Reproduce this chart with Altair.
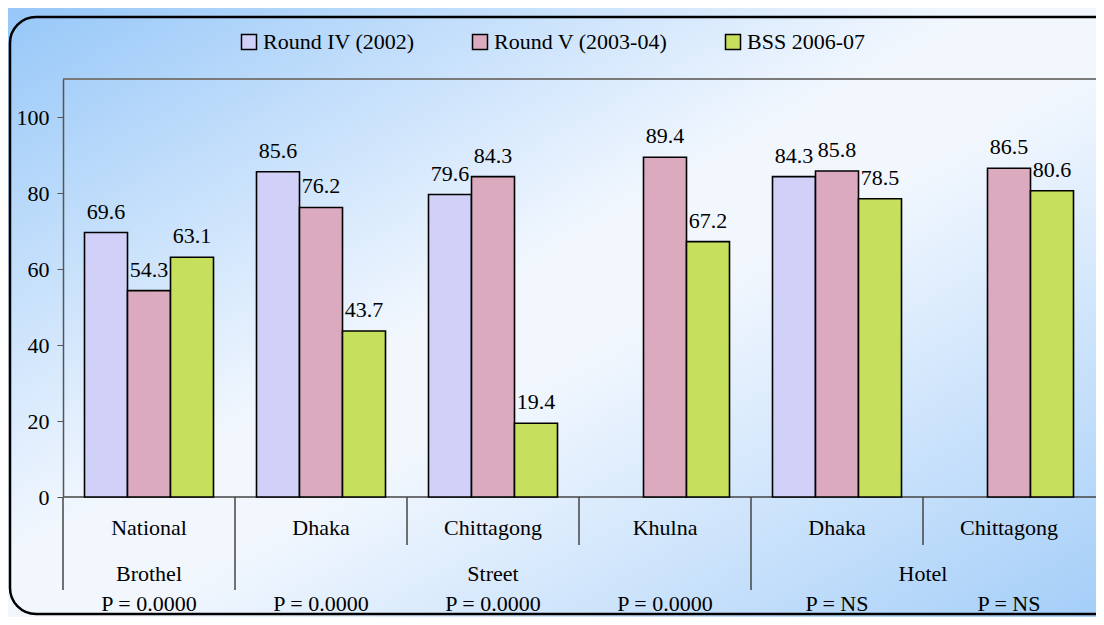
import altair as alt
import pandas as pd

# ---------------- data ----------------
categories = ["National", "Dhaka", "Chittagong", "Khulna", "Dhaka", "Chittagong"]
sections = ["Brothel", "Street", "Street", "Street", "Hotel", "Hotel"]
p_values = ["P = 0.0000", "P = 0.0000", "P = 0.0000", "P = 0.0000", "P = NS", "P = NS"]
series = ["Round IV (2002)", "Round V (2003-04)", "BSS 2006-07"]
round_iv = [69.6, 85.6, 79.6, None, 84.3, None]
round_v = [54.3, 76.2, 84.3, 89.4, 85.8, 86.5]
bss = [63.1, 43.7, 19.4, 67.2, 78.5, 80.6]
y_ticks = [0, 20, 40, 60, 80, 100]
colors = ["#d0d0f8", "#dcaabf", "#c6df5c"]

W, H = 1032, 418
FONT = "Liberation Serif, Times New Roman, DejaVu Serif, serif"
FS = 22

keys = [f"g{i}" for i in range(len(categories))]

rows = []
for i, cat in enumerate(categories):
    for s, vals in zip(series, [round_iv, round_v, bss]):
        v = vals[i]
        if v is not None:
            rows.append({"key": keys[i], "category": cat, "series": s,
                         "value": v, "label": f"{v:.1f}"})
bars_df = pd.DataFrame(rows)

groups_df = pd.DataFrame({"idx": list(range(len(categories))),
                          "category": categories, "p": p_values})

# contiguous section runs
sec_rows = []
start = 0
for i in range(1, len(sections) + 1):
    if i == len(sections) or sections[i] != sections[start]:
        sec_rows.append({"section": sections[start], "start": start, "end": i})
        start = i
sec_df = pd.DataFrame(sec_rows)

sep_rows = []
for i in range(len(sections)):
    long_ = i == 0 or sections[i] != sections[i - 1]
    sep_rows.append({"pos": i, "long": long_})
sep_df = pd.DataFrame(sep_rows)

one = pd.DataFrame({"z": [0]})

xq = alt.Scale(domain=[0, len(categories)], nice=False, zero=False)

gradient = {
    "gradient": "linear", "x1": 0, "y1": 0, "x2": 1, "y2": 1,
    "stops": [
        {"offset": 0, "color": "#96c7f8"},
        {"offset": 0.45, "color": "#f2f7fe"},
        {"offset": 0.55, "color": "#f2f7fe"},
        {"offset": 1, "color": "#a4cef8"},
    ],
}

bg = alt.Chart(one).mark_rect(fill=gradient, strokeWidth=0).encode(
    x=alt.value(-55), x2=alt.value(W + 1), y=alt.value(-71), y2=alt.value(H + 120)
)

frame = alt.Chart(one).mark_rect(
    fill="transparent", stroke="black", strokeWidth=2.5, cornerRadius=26
).encode(x=alt.value(-53), x2=alt.value(W + 40), y=alt.value(-62), y2=alt.value(H + 117))

top_line = alt.Chart(one).mark_rule(color="#7a7a7a", strokeWidth=2).encode(
    x=alt.value(0), x2=alt.value(W + 1), y=alt.value(0)
)

bottom_line = alt.Chart(one).mark_rule(color="#444444", strokeWidth=1.5).encode(
    x=alt.value(0), x2=alt.value(W + 1), y=alt.value(H)
)

y_scale = alt.Scale(domain=[0, 110], nice=False)
x_band_scale = alt.Scale(domain=keys, paddingInner=0, paddingOuter=0)
x_off = alt.XOffset("series:N", sort=series,
                    scale=alt.Scale(domain=series, paddingInner=0, paddingOuter=0.5))
y_enc = alt.Y("value:Q", scale=y_scale,
              axis=alt.Axis(values=y_ticks, title=None, grid=False, tickSize=6,
                            tickColor="#555555", domainColor="#555555", domainWidth=1.5,
                            labelFontSize=FS, labelFont=FONT, labelColor="black",
                            labelPadding=8, zindex=1))

bars = alt.Chart(bars_df).mark_bar(stroke="black", strokeWidth=1.6).encode(
    x=alt.X("key:N", sort=keys, scale=x_band_scale, axis=None),
    xOffset=x_off, y=y_enc,
    color=alt.Color("series:N", sort=series,
                    scale=alt.Scale(domain=series, range=colors),
                    legend=alt.Legend(title=None, orient="none", legendX=175, legendY=-48,
                                      direction="horizontal", symbolType="square",
                                      symbolSize=225, symbolStrokeColor="black",
                                      symbolStrokeWidth=1.5, labelFontSize=FS,
                                      labelFont=FONT, labelColor="black", labelOffset=3,
                                      labelLimit=400, columnPadding=54, padding=0)),
)

labels = alt.Chart(bars_df).mark_text(
    baseline="bottom", dy=-9, fontSize=FS, font=FONT, color="black"
).encode(
    x=alt.X("key:N", sort=keys, scale=x_band_scale, axis=None),
    xOffset=x_off, y=y_enc,
    text="label:N",
)

seps_long = alt.Chart(sep_df).transform_filter("datum.long").mark_rule(
    color="#444444", strokeWidth=1.5
).encode(x=alt.X("pos:Q", scale=xq, axis=None), y=alt.value(H), y2=alt.value(H + 93))

seps_short = alt.Chart(sep_df).transform_filter("!datum.long").mark_rule(
    color="#444444", strokeWidth=1.5
).encode(x=alt.X("pos:Q", scale=xq, axis=None), y=alt.value(H), y2=alt.value(H + 48))

cat_text = alt.Chart(groups_df).transform_calculate(mid="datum.idx + 0.5").mark_text(
    fontSize=FS, font=FONT, color="black", baseline="middle"
).encode(x=alt.X("mid:Q", scale=xq, axis=None), y=alt.value(H + 31), text="category:N")

p_text = alt.Chart(groups_df).transform_calculate(mid="datum.idx + 0.5").mark_text(
    fontSize=FS, font=FONT, color="black", baseline="middle"
).encode(x=alt.X("mid:Q", scale=xq, axis=None), y=alt.value(H + 107), text="p:N")

sec_text = alt.Chart(sec_df).transform_calculate(mid="(datum.start + datum.end) / 2").mark_text(
    fontSize=FS, font=FONT, color="black", baseline="middle"
).encode(x=alt.X("mid:Q", scale=xq, axis=None), y=alt.value(H + 77), text="section:N")

chart = alt.layer(
    bg, frame, top_line, bottom_line, bars, labels, seps_long, seps_short,
    cat_text, sec_text, p_text
).resolve_scale(x="independent").properties(
    width=W, height=H,
    padding={"left": 55, "top": 71, "right": 1, "bottom": 120},
    autosize=alt.AutoSizeParams(type="none"),
).configure_view(stroke=None).configure(font=FONT)

chart.save("out.html", embed_options={"renderer": "svg", "actions": False})
